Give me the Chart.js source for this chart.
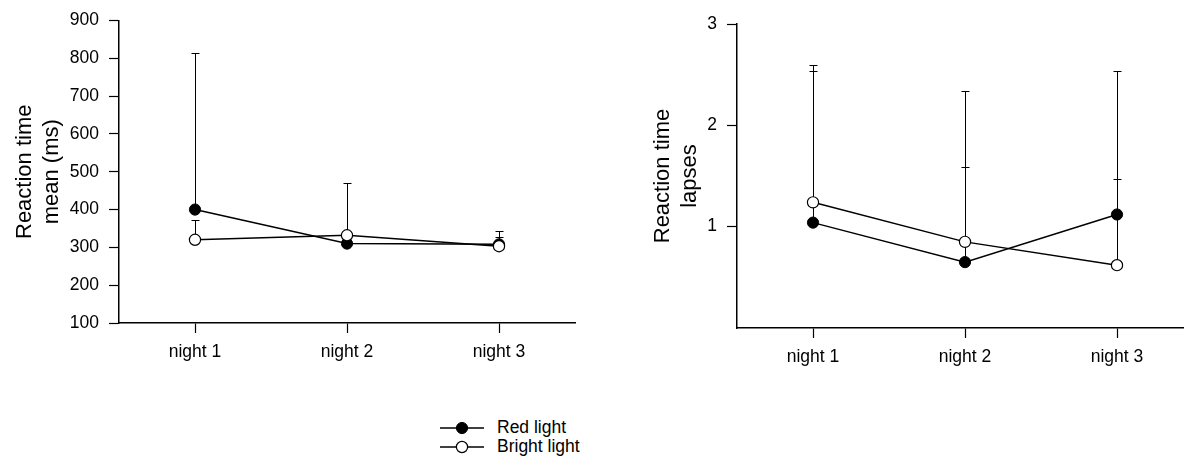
<!DOCTYPE html>
<html>
<head>
<meta charset="utf-8">
<script src="https://cdn.jsdelivr.net/npm/chart.js@4/dist/chart.umd.min.js"></script>
<style>
  html, body { margin:0; padding:0; background:#fff; overflow:hidden; width:1184px; height:457px; position:relative; font-family:"Liberation Sans", Arial, sans-serif; }
  #c1 { position:absolute; left:0; top:0; }
  #c2 { position:absolute; left:640px; top:0; }
  .leg { position:absolute; left:440px; height:19px; display:flex; align-items:center; color:#000; font-size:17.5px; line-height:19px; white-space:nowrap; }
  .leg svg { display:block; margin-right:13px; }
</style>
</head>
<body>
<canvas id="c1" width="620" height="400"></canvas>
<canvas id="c2" width="560" height="400"></canvas>
<div class="leg" style="top:418px">
  <svg width="44" height="14" viewBox="0 0 44 14"><line x1="0" y1="7" x2="44" y2="7" stroke="#000" stroke-width="1.4"/><circle cx="22" cy="7" r="5.6" fill="#000" stroke="#000" stroke-width="1"/></svg>
  <span id="legRed"></span>
</div>
<div class="leg" style="top:437px">
  <svg width="44" height="14" viewBox="0 0 44 14"><line x1="0" y1="7" x2="44" y2="7" stroke="#000" stroke-width="1.4"/><circle cx="22" cy="7" r="5.6" fill="#fff" stroke="#000" stroke-width="1.2"/></svg>
  <span id="legBright"></span>
</div>
<script>
// ---------- data ----------
const categories = ["night 1", "night 2", "night 3"];
const seriesNames = ["Red light", "Bright light"];

// Left panel: reaction time mean (ms)
const meanRed = [400, 310, 308];
const meanRedErr = [415, 25, 35];
const meanBright = [320, 332, 303];
const meanBrightErr = [53, 138, 25];
const meanTicks = [100, 200, 300, 400, 500, 600, 700, 800, 900];

// Right panel: reaction time lapses
const lapsesRed = [1.04, 0.65, 1.12];
const lapsesRedErr = [1.56, 0.94, 0.35];
const lapsesBright = [1.24, 0.85, 0.62];
const lapsesBrightErr = [1.30, 1.49, 1.92];
const lapsesTicks = [1, 2, 3];

document.getElementById('legRed').textContent = seriesNames[0];
document.getElementById('legBright').textContent = seriesNames[1];

const FONT = "'Liberation Sans', Arial, sans-serif";

const errorBars = {
  id: 'errorBars',
  beforeDatasetsDraw(chart) {
    const { ctx, scales: { x, y } } = chart;
    ctx.save();
    ctx.strokeStyle = '#000';
    ctx.lineWidth = 1;
    chart.data.datasets.forEach(ds => {
      if (!ds.errUp) return;
      ds.data.forEach((v, j) => {
        const px = Math.round(x.getPixelForValue(j)) + 0.5;
        const y0 = y.getPixelForValue(v);
        const y1 = Math.round(y.getPixelForValue(v + ds.errUp[j])) + 0.5;
        ctx.beginPath();
        ctx.moveTo(px, y0);
        ctx.lineTo(px, y1);
        ctx.moveTo(px - 4, y1);
        ctx.lineTo(px + 4, y1);
        ctx.stroke();
      });
    });
    ctx.restore();
  }
};

function makeChart(id, redVals, redErr, brightVals, brightErr, yMin, yMax, tickVals, titleLines, yWidth, pad, titlePad) {
  return new Chart(document.getElementById(id), {
    type: 'line',
    data: {
      labels: categories,
      datasets: [
        { label: seriesNames[0], data: redVals, errUp: redErr, order: 1,
          borderColor: '#000', borderWidth: 1.5, backgroundColor: '#000',
          pointRadius: 5.6, pointBorderWidth: 1, pointBackgroundColor: '#000', pointBorderColor: '#000' },
        { label: seriesNames[1], data: brightVals, errUp: brightErr, order: 0,
          borderColor: '#000', borderWidth: 1.5, backgroundColor: '#fff',
          pointRadius: 5.6, pointBorderWidth: 1.2, pointBackgroundColor: '#fff', pointBorderColor: '#000' }
      ]
    },
    options: {
      responsive: false,
      animation: false,
      devicePixelRatio: 1,
      layout: { padding: pad },
      plugins: { legend: { display: false }, tooltip: { enabled: false }, title: { display: false } },
      scales: {
        x: {
          type: 'category',
          offset: true,
          grid: { display: true, offset: false, drawOnChartArea: false, drawTicks: true, tickLength: 10, tickColor: '#000', tickWidth: 1.2 },
          border: { display: true, color: '#000', width: 1.5 },
          ticks: { color: '#000', padding: 9, font: { family: FONT, size: 17.5 }, maxRotation: 0 },
          afterFit(s) { s.height = 60; }
        },
        y: {
          min: yMin, max: yMax,
          afterBuildTicks(s) { s.ticks = tickVals.map(v => ({ value: v })); },
          grid: { display: true, drawOnChartArea: false, drawTicks: true, tickLength: 10, tickColor: '#000', tickWidth: 1.2 },
          border: { display: true, color: '#000', width: 1.5 },
          ticks: { color: '#000', padding: 10, font: { family: FONT, size: 17.5 } },
          title: { display: true, text: titleLines, color: '#000', font: { family: FONT, size: 22, lineHeight: 1.2 }, padding: { top: titlePad, bottom: 0 } },
          afterFit(s) { s.width = yWidth; }
        }
      }
    },
    plugins: [errorBars]
  });
}

makeChart('c1', meanRed, meanRedErr, meanBright, meanBrightErr, 100, 900, meanTicks,
  ["Reaction time", "mean (ms)"], 119, { top: 19, right: 45, bottom: 17, left: 0 }, 12);
makeChart('c2', lapsesRed, lapsesRedErr, lapsesBright, lapsesBrightErr, 0, 3, lapsesTicks,
  ["Reaction time", "lapses"], 97, { top: 24, right: 7, bottom: 12, left: 0 }, 10);
</script>
</body>
</html>
